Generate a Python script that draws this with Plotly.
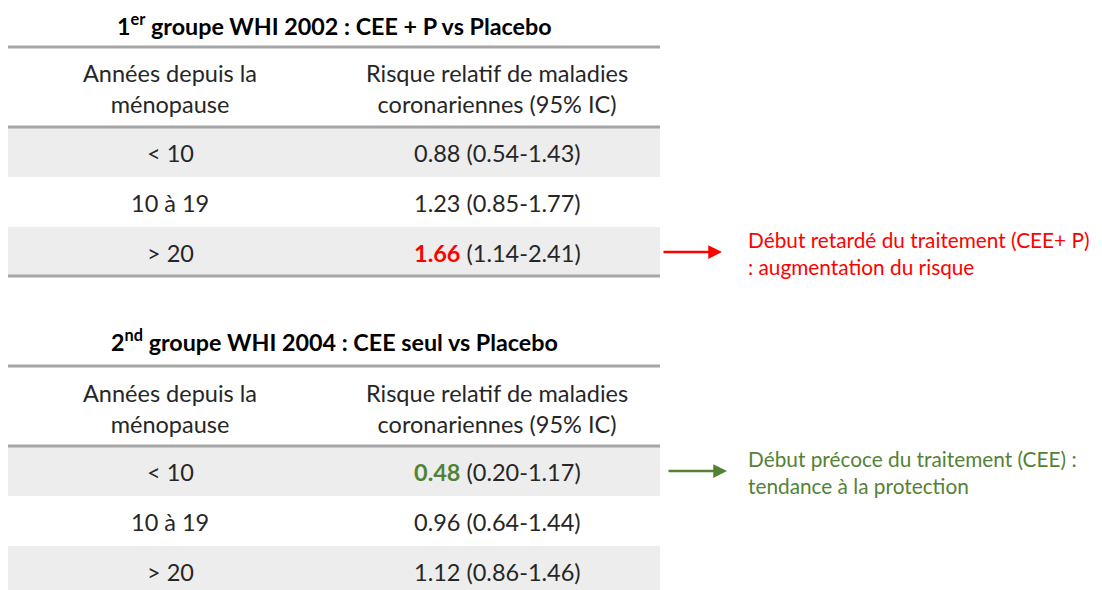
import plotly.graph_objects as go

# ---- data ----
titles = ["1<sup>er</sup> groupe WHI 2002 : CEE + P vs Placebo",
          "2<sup>nd</sup> groupe WHI 2004 : CEE seul vs Placebo"]
header_col1 = "Années depuis la<br>ménopause"
header_col2 = "Risque relatif de maladies<br>coronariennes (95% IC)"
years = ["< 10", "10 à 19", "> 20"]
rr_t1 = ["0.88", "1.23", "1.66"]
ci_t1 = ["(0.54-1.43)", "(0.85-1.77)", "(1.14-2.41)"]
rr_t2 = ["0.48", "0.96", "1.12"]
ci_t2 = ["(0.20-1.17)", "(0.64-1.44)", "(0.86-1.46)"]
highlight = [(0, 2, "#ff0000"), (1, 0, "#548235")]  # (table, row, colour)
notes = ["Début retardé du traitement (CEE+ P)<br>: augmentation du risque",
         "Début précoce du traitement (CEE) :<br>tendance à la protection"]
note_colors = ["#ff0000", "#548235"]

FONT = "Lato"
W, H = 1102, 590
OFF = 8  # default page body margin
X0, X1 = 8, 660
C1, C2 = 170, 497
LINE = "#a6a6a6"
GRAY = "#ededed"
TXT = "#262626"
BODY = 23.5

tables = [
    dict(title_y=24, top=47, hdr=88, hdr_bot=127, rows=[(127, 177), (177, 227), (227, 276)], bottom=276,
         rr=rr_t1, ci=ci_t1),
    dict(title_y=340, top=366, hdr=408, hdr_bot=446, rows=[(446, 496), (496, 546), (546, 596)], bottom=None,
         rr=rr_t2, ci=ci_t2),
]

fig = go.Figure()
fig.add_trace(go.Scatter(x=[OFF, W], y=[OFF, H], mode="markers", marker=dict(opacity=0), hoverinfo="skip",
                         showlegend=False))

shapes = []
annotations = []
for ti, t in enumerate(tables):
    for ri, (a, b) in enumerate(t["rows"]):
        if ri % 2 == 0:
            shapes.append(dict(type="rect", xref="x", yref="y", x0=X0, x1=X1, y0=a, y1=b,
                               fillcolor=GRAY, line=dict(width=0), layer="below"))
    for yy in [t["top"], t["hdr_bot"], t["bottom"]]:
        if yy is not None:
            shapes.append(dict(type="line", xref="x", yref="y", x0=X0, x1=X1, y0=yy, y1=yy,
                               line=dict(color=LINE, width=3)))
    annotations.append(dict(x=(X0 + X1) / 2, y=t["title_y"], xref="x", yref="y",
                            text="<b>" + titles[ti] + "</b>",
                            showarrow=False, font=dict(family=FONT, size=23.3, color="#000000")))
    annotations.append(dict(x=C1, y=t["hdr"], xref="x", yref="y", text=header_col1, showarrow=False,
                            font=dict(family=FONT, size=BODY, color=TXT)))
    annotations.append(dict(x=C2, y=t["hdr"], xref="x", yref="y", text=header_col2, showarrow=False,
                            font=dict(family=FONT, size=BODY, color=TXT)))
    for ri, (a, b) in enumerate(t["rows"]):
        cy = (a + b) / 2 + 1
        annotations.append(dict(x=C1, y=cy, xref="x", yref="y", text=years[ri], showarrow=False,
                                font=dict(family=FONT, size=BODY, color=TXT)))
        rr = t["rr"][ri]
        for (hti, hri, col) in highlight:
            if hti == ti and hri == ri:
                rr = f"<span style='color:{col}'><b>{rr}</b></span>"
        annotations.append(dict(x=C2, y=cy, xref="x", yref="y", text=rr + " " + t["ci"][ri], showarrow=False,
                                font=dict(family=FONT, size=BODY, color=TXT)))

arrow_specs = [(662, 722, 252, 253), (667, 727, 471, 472)]
for i, (xa, xb, ya, ty) in enumerate(arrow_specs):
    annotations.append(dict(x=xb, y=ya, ax=xa, ay=ya, xref="x", yref="y", axref="x", ayref="y", text="",
                            showarrow=True, arrowhead=2, arrowsize=1.1, arrowwidth=2.5,
                            arrowcolor=note_colors[i]))
    annotations.append(dict(x=746, y=ty, xref="x", yref="y", text=notes[i], showarrow=False, xanchor="left",
                            align="left", font=dict(family=FONT, size=20.8, color=note_colors[i])))

fig.update_layout(width=W - OFF, height=H - OFF, margin=dict(l=0, r=0, t=0, b=0), paper_bgcolor="white",
                  plot_bgcolor="white", shapes=shapes, annotations=annotations,
                  xaxis=dict(range=[OFF, W], visible=False, fixedrange=True),
                  yaxis=dict(range=[H, OFF], visible=False, fixedrange=True), showlegend=False)
fig.write_html("out.html")
